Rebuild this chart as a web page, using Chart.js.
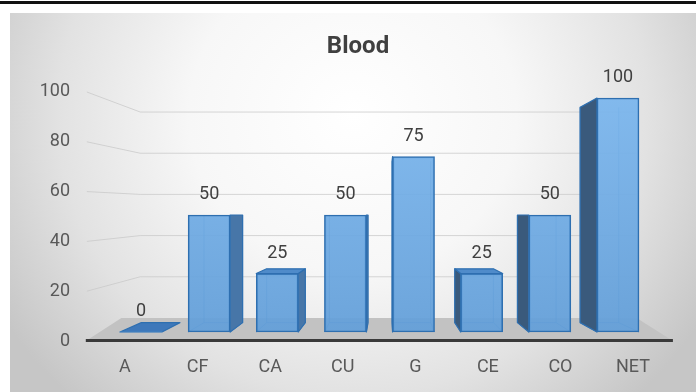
<!DOCTYPE html>
<html>
<head>
<meta charset="utf-8">
<title>Blood</title>
<script src="https://cdn.jsdelivr.net/npm/chart.js@4.4.1/dist/chart.umd.min.js"></script>
<style>
  html, body { margin: 0; padding: 0; background: #ffffff; }
  #wrap { width: 696px; height: 392px; }
</style>
</head>
<body>
<div id="wrap"><canvas id="chart" width="696" height="392"></canvas></div>
<script>
// ---- data ----
const chartTitle = 'Blood';
const categories = ['A', 'CF', 'CA', 'CU', 'G', 'CE', 'CO', 'NET'];
const bloodValues = [0, 50, 25, 50, 75, 25, 50, 100];
const yTickValues = [0, 20, 40, 60, 80, 100];

// ---- 3D look ----
const HORIZON_VALUE = 50;     // eye level, in bar-axis units
const VANISH_INDEX = 3.6;     // vanishing point, in bar-axis index units
const BAR_DEPTH = 0.92;       // back face scale of a column
const WALL_DEPTH = 0.88;      // back wall scale relative to the column plane

const FRONT_FILL_TOP = 'rgba(124,184,240,0.92)';
const FRONT_FILL_BOTTOM = 'rgba(96,157,216,0.92)';
const BAR_EDGE = '#2e6fb0';
const SIDE_LEFT = '#3a5a7c';
const SIDE_RIGHT = '#4776a8';
const TOP_FACE = '#4f8bca';
const BACK_EDGE = 'rgba(46,111,176,0.55)';

const TEXT_COLOR = '#595959';
const FONT = 'Roboto';

function frontFill(ctx) {
  const chart = ctx.chart;
  const a = chart.chartArea;
  if (!a) return FRONT_FILL_BOTTOM;
  const g = chart.ctx.createLinearGradient(0, a.top, 0, a.bottom);
  g.addColorStop(0, FRONT_FILL_TOP);
  g.addColorStop(1, FRONT_FILL_BOTTOM);
  return g;
}

// Panel, walls, floor and axis line behind the columns
const backdrop = {
  id: 'backdrop',
  beforeDraw(chart) {
    const ctx = chart.ctx;
    const W = chart.width, H = chart.height;
    const ys = chart.scales.y, yb = chart.scales.yBar, xl = chart.scales.x;
    ctx.save();
    ctx.fillStyle = '#ffffff';
    ctx.fillRect(0, 0, W, H);
    // top rule
    ctx.fillStyle = '#111111';
    ctx.fillRect(0, 1, W, 3);
    // panel with soft radial shading
    const px = 10, py = 13;
    ctx.save();
    ctx.beginPath();
    ctx.rect(px, py, W - px, H - py);
    ctx.clip();
    ctx.translate((px + W) / 2, 115);
    ctx.scale(1, 0.95);
    const rg = ctx.createRadialGradient(0, 0, 0, 0, 0, 410);
    rg.addColorStop(0, '#ffffff');
    rg.addColorStop(0.4, '#f7f7f7');
    rg.addColorStop(0.72, '#e2e2e2');
    rg.addColorStop(1, '#c6c6c6');
    ctx.fillStyle = rg;
    ctx.fillRect(-700, -700, 1400, 1400);
    ctx.restore();

    // perspective helpers
    const vpY = yb.getPixelForValue(HORIZON_VALUE);
    const backY = v => vpY + (yb.getPixelForValue(v) - vpY) * WALL_DEPTH;
    const frontLeft = xl.getPixelForValue(-0.54);
    const frontRight = xl.getPixelForValue(7.55);
    const backLeft = xl.getPixelForValue(0.21);
    const backRight = xl.getPixelForValue(7.05);
    const floorBackLeft = xl.getPixelForValue(-0.05);
    const y0 = ys.getPixelForValue(0);

    // floor
    ctx.fillStyle = '#c2c2c2';
    ctx.beginPath();
    ctx.moveTo(frontLeft, y0);
    ctx.lineTo(frontRight, y0);
    ctx.lineTo(backRight, backY(0));
    ctx.lineTo(floorBackLeft, backY(0));
    ctx.closePath();
    ctx.fill();

    // gridlines on the side wall and back wall
    ctx.strokeStyle = 'rgba(200,200,200,0.75)';
    ctx.lineWidth = 1;
    yTickValues.forEach(v => {
      if (v === 0) return;
      const fy = ys.getPixelForValue(v);
      const by = backY(v);
      ctx.beginPath();
      ctx.moveTo(frontLeft + 1, fy);
      ctx.lineTo(backLeft, by);
      ctx.lineTo(backRight, by);
      ctx.stroke();
    });

    // category axis line
    ctx.strokeStyle = '#3a3a3a';
    ctx.lineWidth = 3;
    ctx.beginPath();
    ctx.moveTo(frontLeft, y0 - 0.5);
    ctx.lineTo(frontRight, y0 - 0.5);
    ctx.stroke();
    ctx.restore();
  }
};

// Side, top and hidden edges of each column
const columns3d = {
  id: 'columns3d',
  beforeDatasetsDraw(chart) {
    const ctx = chart.ctx;
    const xs = chart.scales.xBar, ys = chart.scales.yBar;
    const vp = { x: xs.getPixelForValue(VANISH_INDEX), y: ys.getPixelForValue(HORIZON_VALUE) };
    const k = BAR_DEPTH;
    const px = x => vp.x + (x - vp.x) * k;
    const py = y => vp.y + (y - vp.y) * k;
    const meta = chart.getDatasetMeta(0);
    ctx.save();
    ctx.lineJoin = 'round';
    meta.data.forEach(bar => {
      const p = bar.getProps(['x', 'y', 'base', 'width'], true);
      const x0 = p.x - p.width / 2, x1 = p.x + p.width / 2;
      const yt = Math.min(p.y, p.base), ybt = Math.max(p.y, p.base);
      const bx0 = px(x0), bx1 = px(x1), byt = py(yt), byb = py(ybt);
      const poly = (pts, fill) => {
        ctx.beginPath();
        ctx.moveTo(pts[0][0], pts[0][1]);
        for (let i = 1; i < pts.length; i++) ctx.lineTo(pts[i][0], pts[i][1]);
        ctx.closePath();
        ctx.fillStyle = fill;
        ctx.fill();
        ctx.strokeStyle = BAR_EDGE;
        ctx.lineWidth = 1.2;
        ctx.stroke();
      };
      // hidden back edges, seen through the front face
      if (ybt - yt > 1) {
        ctx.strokeStyle = BACK_EDGE;
        ctx.lineWidth = 1;
        ctx.beginPath();
        ctx.moveTo(bx0, byt); ctx.lineTo(bx0, byb); ctx.lineTo(bx1, byb); ctx.lineTo(bx1, byt);
        ctx.moveTo(x0, ybt); ctx.lineTo(bx0, byb);
        ctx.moveTo(x1, ybt); ctx.lineTo(bx1, byb);
        ctx.stroke();
      }
      // side face
      if (ybt - yt > 1) {
        if (x0 > vp.x) {
          poly([[x0, yt], [bx0, byt], [bx0, byb], [x0, ybt]], SIDE_LEFT);
        } else if (x1 < vp.x) {
          poly([[x1, yt], [bx1, byt], [bx1, byb], [x1, ybt]], SIDE_RIGHT);
        }
      }
      // top face when it lies below eye level
      if (yt > vp.y) {
        poly([[x0, yt], [x1, yt], [bx1, byt], [bx0, byt]], ybt - yt > 1 ? TOP_FACE : '#3e78ba');
      }
    });
    ctx.restore();
  }
};

// Value labels above each column
const valueLabels = {
  id: 'valueLabels',
  afterDatasetsDraw(chart) {
    const ctx = chart.ctx;
    const meta = chart.getDatasetMeta(0);
    const ds = chart.data.datasets[0];
    ctx.save();
    ctx.font = '18px ' + FONT;
    ctx.fillStyle = '#404040';
    ctx.textAlign = 'center';
    ctx.textBaseline = 'middle';
    meta.data.forEach((bar, i) => {
      ctx.fillText(String(ds.data[i].y), bar.x, bar.y - 20);
    });
    ctx.restore();
  }
};

new Chart(document.getElementById('chart'), {
  type: 'bar',
  data: {
    datasets: [{
      label: chartTitle,
      data: bloodValues.map((v, i) => ({ x: i, y: v })),
      xAxisID: 'xBar',
      yAxisID: 'yBar',
      barThickness: 42,
      backgroundColor: frontFill,
      borderColor: BAR_EDGE,
      borderWidth: ctx => (ctx.raw && ctx.raw.y === 0 ? 0 : 1.5),
      borderSkipped: false
    }]
  },
  options: {
    responsive: false,
    animation: false,
    devicePixelRatio: 1,
    layout: { padding: { top: 22, left: 20, right: 0, bottom: 0 } },
    plugins: {
      legend: { display: false },
      tooltip: { enabled: false },
      title: {
        display: true,
        text: chartTitle,
        color: '#404040',
        font: { family: FONT, size: 24, weight: 'bold' },
        padding: { top: 11, bottom: 8 }
      }
    },
    scales: {
      x: {
        type: 'linear',
        position: 'bottom',
        offset: false,
        min: -0.62,
        max: 7.868,
        afterBuildTicks: s => { s.ticks = categories.map((_, i) => ({ value: i })); },
        afterFit: s => { s.height = 47; },
        ticks: {
          autoSkip: false,
          maxRotation: 0,
          padding: 12,
          color: TEXT_COLOR,
          font: { family: FONT, size: 18 },
          callback: v => categories[v]
        },
        grid: { display: false, drawTicks: false },
        border: { display: false }
      },
      xBar: {
        type: 'linear',
        display: false,
        offset: false,
        min: -0.895,
        max: 8.145
      },
      y: {
        type: 'linear',
        position: 'left',
        min: -1.606,
        max: 108.91,
        afterBuildTicks: s => { s.ticks = yTickValues.map(v => ({ value: v })); },
        afterFit: s => { s.width = 60; },
        ticks: {
          padding: 10,
          color: TEXT_COLOR,
          font: { family: FONT, size: 18 }
        },
        grid: { display: false, drawTicks: false },
        border: { display: false }
      },
      yBar: {
        type: 'linear',
        display: false,
        min: -5.556,
        max: 112.05
      }
    }
  },
  plugins: [backdrop, columns3d, valueLabels]
});
</script>
</body>
</html>
